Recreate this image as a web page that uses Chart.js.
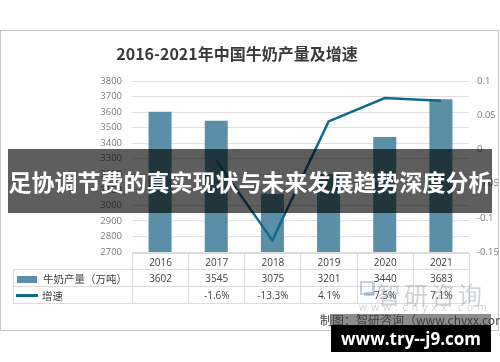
<!DOCTYPE html>
<html>
<head>
<meta charset="utf-8">
<script src="https://cdn.jsdelivr.net/npm/chart.js@4"></script>
<style>
  html,body{margin:0;padding:0;background:#fff;}
  #wrap{position:relative;width:500px;height:362px;overflow:hidden;font-family:"Open Sans","Noto Sans CJK SC",sans-serif;}
  #c{position:absolute;left:0;top:0;}
  .abs{position:absolute;}
  #frame{left:0;top:30px;width:497px;height:299px;border:1.5px solid #c4c4c4;}
  #title{left:0;width:474px;top:41px;text-align:center;font:bold 16px "Noto Sans CJK SC",sans-serif;color:#3a3a3a;line-height:24px;}
  #tbl{position:absolute;left:13px;top:253px;border-collapse:collapse;table-layout:fixed;font-size:10px;color:#404040;}
  #tbl td{border:1px solid #dcdcdc;padding:0;text-align:center;white-space:nowrap;}
  #tbl td.lg{text-align:left;font-family:"Noto Sans CJK SC",sans-serif;font-size:10.5px;}
  #banner{left:8px;top:149px;width:484px;height:64px;background:rgba(0,0,0,0.63);color:#fff;font:bold 23px "Noto Sans CJK SC",sans-serif;line-height:64px;text-align:center;white-space:nowrap;}
  #wm1{left:377px;top:276px;font:24px "Noto Sans CJK SC",sans-serif;letter-spacing:3px;color:rgba(120,130,140,0.35);}
  #wm2{left:359px;top:300px;font:10px "Open Sans",sans-serif;letter-spacing:4.4px;color:rgba(120,130,140,0.35);}
  #src{left:320px;top:311px;font:12px "Noto Sans CJK SC",sans-serif;color:#3c3c3c;white-space:nowrap;}
  #badgeTop{left:331px;top:314px;width:160px;height:11px;background:rgba(0,0,0,0.45);}
  #badge{left:331px;top:325px;width:160px;height:27px;background:#000;color:#fff;font:bold 17px "Open Sans",sans-serif;line-height:27px;text-align:center;}
</style>
</head>
<body>
<div id="wrap">
  <canvas id="c" width="500" height="362"></canvas>
  <div class="abs" id="frame"></div>
  <div class="abs" id="title">2016-2021年中国牛奶产量及增速</div>
  <table id="tbl"></table>
  <div class="abs" id="wmIcon" style="left:360px;top:281px;width:10px;height:10px;border:2px solid rgba(90,130,170,0.35);border-right-width:3px;"></div>
  <div class="abs" style="left:364px;top:292px;width:10px;height:4px;background:rgba(90,130,170,0.35);"></div>
  <div class="abs" id="wm1">智研咨询</div>
  <div class="abs" id="wm2">www.chyxx.com</div>
  <div class="abs" id="badgeTop"></div>
  <div class="abs" id="src">制图：智研咨询（www.chyxx.com）</div>
  <div class="abs" id="badge">www.try--j9.com</div>
  <div class="abs" id="banner">足协调节费的真实现状与未来发展趋势深度分析</div>
</div>
<script>
const years = ["2016","2017","2018","2019","2020","2021"];
const production = [3602, 3545, 3075, 3201, 3440, 3683];
const growth = [null, -0.016, -0.133, 0.041, 0.075, 0.071];
const leftTicks = [2700, 3800, 100];
const rightTicks = [-0.15, 0.1, 0.05];
const seriesNames = ["牛奶产量（万吨）", "增速"];
const barColor = "#5b8fa7";
const lineColor = "#0d6a8b";

// data table
const tbl = document.getElementById("tbl");
const colW = (469 - 132) / years.length;
let html = '<colgroup><col style="width:119px">' + years.map(()=>`<col style="width:${colW}px">`).join('') + '</colgroup>';
html += '<tr style="height:16px"><td style="border-top:none;border-left:none"></td>' + years.map(y=>`<td>${y}</td>`).join('') + '</tr>';
html += `<tr style="height:17px"><td class="lg"><span style="display:inline-block;width:20px;height:7px;background:${barColor};margin:0 6px 0 3px;vertical-align:-0px"></span>${seriesNames[0]}</td>` + production.map(v=>`<td>${v}</td>`).join('') + '</tr>';
html += `<tr style="height:17px"><td class="lg"><span style="display:inline-block;width:22px;height:2.5px;background:${lineColor};margin:0 4px 0 2px;vertical-align:3px"></span>${seriesNames[1]}</td>` + growth.map(v=>`<td>${v===null?'':(v*100).toFixed(1)+'%'}</td>`).join('') + '</tr>';
tbl.innerHTML = html;

const tickFont = {family: "Open Sans", size: 9.5};
new Chart(document.getElementById("c"), {
  data: {
    labels: years,
    datasets: [
      {type: "line", label: seriesNames[1], data: growth, yAxisID: "y1", borderColor: lineColor, borderWidth: 2.5, pointRadius: 0, tension: 0, spanGaps: false, order: 0},
      {type: "bar", label: seriesNames[0], data: production, yAxisID: "y", backgroundColor: barColor, barPercentage: 0.41, categoryPercentage: 1, order: 1}
    ]
  },
  options: {
    responsive: false,
    animation: false,
    layout: {padding: {top: 81, bottom: 110, left: 0, right: 0}},
    plugins: {legend: {display: false}, tooltip: {enabled: false}, title: {display: false}},
    scales: {
      x: {display: false, offset: true},
      y: {
        position: "left", min: leftTicks[0], max: leftTicks[1],
        ticks: {stepSize: leftTicks[2], padding: 10, color: "#7a7a7a", font: tickFont,
          callback: v => String(v)},
        grid: {color: "#dedede", lineWidth: 1, drawTicks: false},
        border: {display: false},
        afterFit: s => { s.width = 132; }
      },
      y1: {
        position: "right", min: rightTicks[0], max: rightTicks[1],
        ticks: {stepSize: rightTicks[2], padding: 8, color: "#7a7a7a", font: tickFont,
          callback: v => String(Number(v.toFixed(2)))},
        grid: {display: false, drawTicks: false},
        border: {display: false},
        afterFit: s => { s.width = 31; }
      }
    }
  }
});
</script>
</body>
</html>
